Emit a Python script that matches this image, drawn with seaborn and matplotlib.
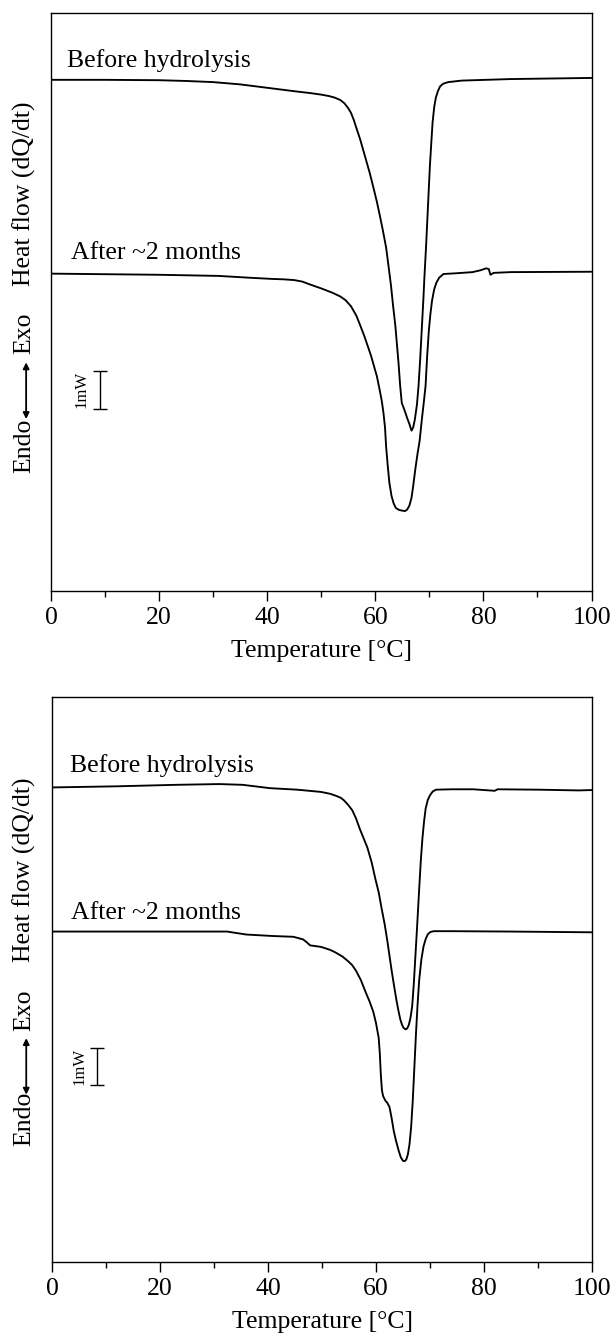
import matplotlib
matplotlib.use("Agg")
import matplotlib.pyplot as plt
import seaborn as sns
import pandas as pd

# ---------------- data (temperature in °C, heat flow in mW, arbitrary offset) -------------
top_before_T = [0, 10, 20, 25, 30, 35, 40, 45, 48, 50, 51.5, 52.5, 53.5, 54.3, 55.0, 55.5, 56.0,
                56.5, 57.2, 57.8, 58.4, 59.0, 59.7, 60.3, 60.9, 61.4, 62.0, 62.5, 62.9, 63.3,
                63.7, 64.0, 64.3, 64.6, 64.9, 65.3, 65.6, 65.9, 66.3, 66.7, 67.0, 67.3, 67.7,
                68.0, 68.3, 68.6, 68.9, 69.1, 69.4, 69.6, 69.9, 70.1, 70.4, 70.6, 70.9, 71.2,
                71.6, 72.0, 72.6, 73.5, 76, 85, 100]
top_before_v = [13.47, 13.47, 13.46, 13.44, 13.41, 13.35, 13.26, 13.17, 13.12, 13.08, 13.04, 13.0,
                12.94, 12.85, 12.72, 12.6, 12.42, 12.2, 11.9, 11.6, 11.3, 11.0, 10.6, 10.25,
                9.85, 9.5, 9.05, 8.5, 8.05, 7.5, 7.0, 6.5, 6.0, 5.4, 4.95, 4.8, 4.68, 4.55, 4.4,
                4.22, 4.3, 4.5, 4.9, 5.4, 6.1, 6.9, 7.7, 8.3, 9.1, 9.7, 10.6, 11.2, 11.9, 12.35,
                12.75, 13.0, 13.18, 13.3, 13.37, 13.41, 13.45, 13.49, 13.52]

top_after_T = [0, 20, 31, 37, 41, 43, 45, 46.5, 48, 50, 52, 53.5, 54.5, 55.5, 56.5, 57.2, 58.0,
               58.6, 59.2, 59.7, 60.3, 60.8, 61.2, 61.5, 61.8, 62.0, 62.3, 62.6, 63.0, 63.4,
               63.8, 64.4, 65.0, 65.5, 65.9, 66.3, 66.7, 67.0, 67.4, 67.8, 68.2, 68.6, 69.0,
               69.3, 69.6, 69.9, 70.2, 70.5, 70.9, 71.3, 71.8, 72.6, 75, 78, 79.5, 80.5, 81.0,
               81.3, 81.9, 85, 100]
top_after_v = [8.36, 8.33, 8.3, 8.25, 8.22, 8.21, 8.19, 8.15, 8.07, 7.97, 7.86, 7.76, 7.66, 7.5,
               7.25, 7.0, 6.7, 6.45, 6.2, 5.95, 5.65, 5.3, 5.0, 4.7, 4.3, 3.8, 3.3, 2.85, 2.5,
               2.3, 2.18, 2.13, 2.11, 2.1, 2.14, 2.24, 2.45, 2.75, 3.2, 3.6, 3.95, 4.5, 5.0, 5.4,
               6.2, 6.85, 7.3, 7.65, 7.95, 8.12, 8.25, 8.35, 8.37, 8.4, 8.45, 8.5, 8.48, 8.33,
               8.38, 8.4, 8.41]

bot_before_T = [0, 12, 23, 31, 35.3, 40.4, 45.4, 49.8, 51.5, 52.7, 53.5, 54.1, 54.8, 55.6, 56.3,
                57.0, 57.7, 58.4, 59.2, 59.9, 60.5, 61.0, 61.6, 62.1, 62.5, 62.9, 63.4, 63.8,
                64.2, 64.5, 64.8, 65.1, 65.5, 65.8, 66.1, 66.4, 66.7, 67.0, 67.3, 67.6, 68.0,
                68.3, 68.6, 68.9, 69.2, 69.6, 70.0, 70.5, 71.1, 74, 78, 82, 82.5, 90, 97.5, 100]
bot_before_v = [12.71, 12.74, 12.78, 12.8, 12.78, 12.69, 12.65, 12.59, 12.54, 12.48, 12.43,
                12.36, 12.25, 12.1, 11.88, 11.6, 11.35, 11.1, 10.7, 10.25, 9.9, 9.5, 9.05, 8.6,
                8.2, 7.8, 7.35, 7.0, 6.7, 6.5, 6.36, 6.27, 6.23, 6.26, 6.36, 6.55, 6.85, 7.45,
                8.2, 8.95, 10.0, 10.75, 11.35, 11.8, 12.15, 12.38, 12.5, 12.6, 12.65, 12.66,
                12.66, 12.62, 12.66, 12.65, 12.63, 12.64]

bot_after_T = [0, 20, 32.4, 36, 41, 44.7, 46.5, 47.2, 47.8, 49.8, 51.5, 52.5, 53.8, 54.8, 55.6,
               56.3, 57.2, 58.1, 58.8, 59.5, 60.0, 60.5, 60.7, 60.9, 61.1, 61.3, 61.7, 62.1,
               62.5, 62.9, 63.3, 63.7, 64.2, 64.6, 65.0, 65.3, 65.6, 65.9, 66.2, 66.5, 66.8,
               67.1, 67.4, 67.7, 68.0, 68.4, 68.8, 69.2, 69.6, 70.1, 70.7, 74, 85, 100]
bot_after_v = [8.85, 8.85, 8.85, 8.77, 8.73, 8.71, 8.64, 8.56, 8.48, 8.44, 8.36, 8.29, 8.18,
               8.06, 7.95, 7.8, 7.55, 7.22, 6.98, 6.7, 6.4, 6.0, 5.6, 5.0, 4.6, 4.45, 4.33, 4.26,
               4.15, 3.85, 3.5, 3.25, 2.98, 2.8, 2.71, 2.7, 2.74, 2.88, 3.15, 3.6, 4.3, 5.2, 6.1,
               6.9, 7.55, 8.1, 8.45, 8.65, 8.78, 8.84, 8.86, 8.86, 8.85, 8.83]

series_labels = ["Before hydrolysis", "After ~2 months"]
x_ticks = [0, 20, 40, 60, 80, 100]
x_label = "Temperature [°C]"
scale_label = "1mW"

# ---------------- style -------------
sns.set_theme(style="ticks")
plt.rcParams["font.family"] = ["Liberation Serif", "DejaVu Serif"]
plt.rcParams["text.color"] = "black"
plt.rcParams["axes.labelcolor"] = "black"
plt.rcParams["xtick.color"] = "black"
plt.rcParams["ytick.color"] = "black"

FS = 18.5
fig = plt.figure(figsize=(6.14, 13.41), dpi=100)
W, H = 614, 1341
ax1 = fig.add_axes([51 / W, 1 - 590.7 / H, 540.5 / W, 578 / H])
ax2 = fig.add_axes([52 / W, 1 - 1262 / H, 540 / W, 565.3 / H])

panels = [
    (ax1, top_before_T, top_before_v, top_after_T, top_after_v, 15.24,
     (0.030, 0.918), (0.0376, 0.5845), (9.0, 5.3), (5.6, 5.3),
     dict(heat=0.6866, exo=0.446, arr=(0.297, 0.395), endo=0.251, x=-0.049)),
    (ax2, bot_before_T, bot_before_v, bot_after_T, bot_after_v, 15.14,
     (0.0333, 0.878), (0.0347, 0.6175), (8.4, 5.24), (5.0, 5.24),
     dict(heat=0.694, exo=0.446, arr=(0.296, 0.396), endo=0.2527, x=-0.0507)),
]

for (ax, bT, bv, aT, av, ytop, pos_b, pos_a, bar, bar_txt, yl) in panels:
    df = pd.concat([
        pd.DataFrame({"T": bT, "v": bv, "s": series_labels[0]}),
        pd.DataFrame({"T": aT, "v": av, "s": series_labels[1]}),
    ])
    for name, sub in df.groupby("s", sort=False):
        sns.lineplot(data=sub, x="T", y="v", ax=ax, color="black", lw=1.35,
                     estimator=None, sort=False, legend=False,
                     solid_joinstyle="round", solid_capstyle="round")
    ax.set_xlim(0, 100)
    ax.set_ylim(0, ytop)
    ax.set_xticks(x_ticks)
    ax.set_xticks(range(10, 100, 20), minor=True)
    ax.set_xticklabels([str(t) for t in x_ticks], fontsize=FS, color="black")
    ax.set_yticks([])
    ax.set_ylabel("")
    ax.set_xlabel(x_label, fontsize=FS, labelpad=8, color="black")
    ax.tick_params(axis="x", which="major", direction="out", length=7.5, width=1.0, pad=4,
                   colors="black")
    ax.tick_params(axis="x", which="minor", direction="out", length=4, width=1.0, colors="black")
    for sp in ax.spines.values():
        sp.set_visible(True)
        sp.set_color("black")
        sp.set_linewidth(1.0)

    ax.text(pos_b[0], pos_b[1], series_labels[0], transform=ax.transAxes, fontsize=FS,
            ha="left", va="center", color="black")
    ax.text(pos_a[0], pos_a[1], series_labels[1], transform=ax.transAxes, fontsize=FS,
            ha="left", va="center", color="black")

    # 1 mW scale bar
    ax.errorbar([bar[0]], [bar[1]], yerr=[0.5], fmt="none", ecolor="black",
                elinewidth=1.0, capsize=5, capthick=1.0)
    ax.text(bar_txt[0], bar_txt[1], scale_label, rotation=90, ha="center", va="center",
            fontsize=12, color="black")

    # vertical axis annotation
    ax.text(yl["x"], yl["heat"], "Heat flow (dQ/dt)", rotation=90, transform=ax.transAxes,
            ha="center", va="center", fontsize=FS, color="black")
    ax.text(yl["x"], yl["exo"], "Exo", rotation=90, transform=ax.transAxes,
            ha="center", va="center", fontsize=FS, color="black")
    ax.text(yl["x"], yl["endo"], "Endo", rotation=90, transform=ax.transAxes,
            ha="center", va="center", fontsize=FS, color="black")
    ax.annotate("", xy=(yl["x"] + 0.003, yl["arr"][0]), xytext=(yl["x"] + 0.003, yl["arr"][1]),
                xycoords="axes fraction", textcoords="axes fraction",
                arrowprops=dict(arrowstyle="<|-|>", color="black", lw=1.3,
                                mutation_scale=9, shrinkA=0, shrinkB=0),
                annotation_clip=False)

fig.savefig("out.png", dpi=100, facecolor="white")
